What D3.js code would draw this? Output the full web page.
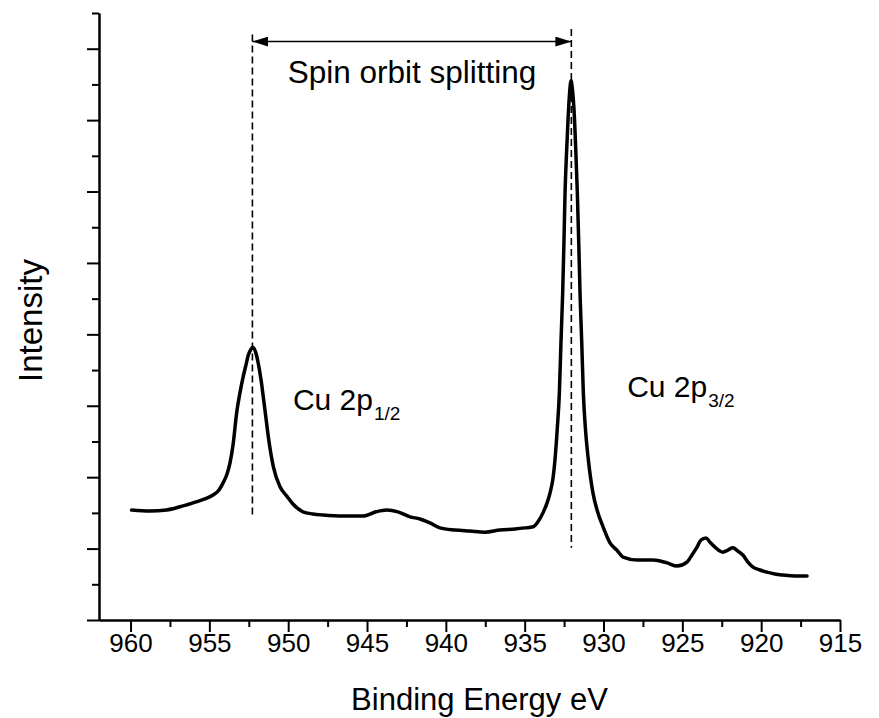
<!DOCTYPE html>
<html>
<head>
<meta charset="utf-8">
<script src="https://cdn.jsdelivr.net/npm/d3@7"></script>
<style>
  html, body { margin: 0; padding: 0; background: #fff; }
  svg { display: block; font-family: "Liberation Sans", Arial, sans-serif; }
</style>
</head>
<body>
<svg id="chart" width="879" height="718"></svg>
<script>
// ---- data (binding energy in eV, intensity in arbitrary units) ----
const energy = [
  959.93, 958.77, 957.71, 956.86, 956.04, 955.28, 954.77, 954.39, 954.13, 953.88,
  953.69, 953.50, 953.27, 953.06, 952.85, 952.68, 952.53, 952.39, 952.25, 952.07,
  951.90, 951.72, 951.58, 951.41, 951.26, 950.94, 950.52, 950.09, 949.70, 949.06,
  948.43, 947.79, 946.52, 945.26, 944.43, 943.75, 943.04, 942.27, 941.64, 941.01,
  940.37, 939.42, 938.47, 937.52, 936.57, 935.61, 934.98, 934.47, 934.16, 933.84,
  933.58, 933.39, 933.20, 933.08, 932.93, 932.80, 932.70, 932.59, 932.51, 932.44,
  932.35, 932.25, 932.16, 932.06, 931.97, 931.87, 931.76, 931.66, 931.57, 931.49,
  931.38, 931.28, 931.14, 930.96, 930.67, 930.41, 930.03, 929.59, 929.16, 928.76,
  927.88, 926.86, 925.97, 925.34, 924.71, 924.39, 924.07, 923.82, 923.50, 923.25,
  922.93, 922.43, 922.11, 921.79, 921.48, 921.16, 920.84, 920.52, 920.08, 919.63,
  919.13, 918.62, 917.86, 917.09
];
const intensity = [
  3.08, 3.05, 3.08, 3.17, 3.28, 3.39, 3.50, 3.64, 3.84, 4.09,
  4.40, 4.90, 5.80, 6.36, 6.82, 7.14, 7.42, 7.56, 7.64, 7.51,
  7.19, 6.72, 6.25, 5.66, 5.13, 4.29, 3.73, 3.47, 3.25, 3.03,
  2.97, 2.94, 2.91, 2.91, 3.03, 3.08, 3.03, 2.89, 2.83, 2.72,
  2.58, 2.52, 2.49, 2.46, 2.52, 2.55, 2.58, 2.61, 2.75, 3.00,
  3.28, 3.56, 3.98, 4.48, 5.38, 6.36, 7.76, 9.16, 10.56, 11.96,
  13.03, 14.01, 14.71, 15.10, 14.85, 14.29, 13.17, 11.96, 10.56, 9.16,
  7.76, 6.36, 5.32, 4.48, 3.56, 3.08, 2.61, 2.16, 1.96, 1.76,
  1.68, 1.68, 1.60, 1.51, 1.62, 1.82, 2.04, 2.24, 2.30, 2.18,
  2.04, 1.90, 1.96, 2.02, 1.93, 1.82, 1.62, 1.48, 1.40, 1.34,
  1.29, 1.26, 1.23, 1.23
];
const xMajorTicks = [960, 955, 950, 945, 940, 935, 930, 925, 920, 915];
const xMinorTicks = [957.5, 952.5, 947.5, 942.5, 937.5, 932.5, 927.5, 922.5, 917.5];
const yMajorTicks = [0, 2, 4, 6, 8, 10, 12, 14, 16];
const yMinorTicks = [1, 3, 5, 7, 9, 11, 13, 15, 17];
// peak positions (eV) marked by dashed lines, and their dashed-line extents (intensity units)
const peakEnergy = [952.27, 932.04];
const peakLineTop = [16.4, 16.55];
const peakLineBottom = [2.9, 2.02];
const arrowLevel = 16.2;
const peakLabels = [
  { main: "Cu 2p", sub: "1/2", e: 949.7, v: 5.87 },
  { main: "Cu 2p", sub: "3/2", e: 928.5, v: 6.25 }
];
const splitLabel = { text: "Spin orbit splitting", e: 942.15, v: 15.05 };
const xTitle = "Binding Energy eV";
const yTitle = "Intensity";

// ---- drawing ----
const svg = d3.select("#chart");
const x = d3.scaleLinear().domain([962, 915]).range([99, 840]);
const y = d3.scaleLinear().domain([0, 17]).range([620, 13]);

const axisStyle = g => {
  g.selectAll("path.domain").attr("stroke", "#000").attr("stroke-width", 2);
  g.selectAll(".tick line").attr("stroke", "#000").attr("stroke-width", 2);
};

// x axis
const gx = svg.append("g").attr("transform", `translate(0,${y(0)})`);
gx.call(d3.axisBottom(x).tickValues(xMajorTicks).tickSize(12).tickSizeOuter(0).tickPadding(2).tickFormat(d3.format("d")))
  .call(axisStyle);
gx.selectAll(".tick text").attr("font-size", 26).attr("fill", "#000").attr("font-family", "Liberation Sans, Arial, sans-serif");
svg.append("g").attr("transform", `translate(0,${y(0)})`)
  .call(d3.axisBottom(x).tickValues(xMinorTicks).tickSize(7).tickSizeOuter(0).tickFormat(""))
  .call(axisStyle);

// y axis
svg.append("g").attr("transform", `translate(${x(962)},0)`)
  .call(d3.axisLeft(y).tickValues(yMajorTicks).tickSize(12).tickSizeOuter(0).tickFormat(""))
  .call(axisStyle);
svg.append("g").attr("transform", `translate(${x(962)},0)`)
  .call(d3.axisLeft(y).tickValues(yMinorTicks).tickSize(7).tickSizeOuter(0).tickFormat(""))
  .call(axisStyle);

// titles
svg.append("text").attr("x", (x(962) + x(915)) / 2 + 10).attr("y", 710)
  .attr("text-anchor", "middle").attr("font-size", 31).text(xTitle);
svg.append("text").attr("transform", `translate(42,${(y(0) + y(17)) / 2 + 4}) rotate(-90)`)
  .attr("text-anchor", "middle").attr("font-size", 33).text(yTitle);

// spectrum
const line = d3.line().x((d, i) => x(energy[i])).y((d, i) => y(intensity[i])).curve(d3.curveMonotoneX);
svg.append("path").datum(intensity).attr("d", line)
  .attr("fill", "none").attr("stroke", "#000").attr("stroke-width", 3.5)
  .attr("stroke-linejoin", "round").attr("stroke-linecap", "round");

// dashed peak lines
peakEnergy.forEach((e, i) => {
  svg.append("line")
    .attr("x1", x(e)).attr("x2", x(e))
    .attr("y1", y(peakLineTop[i])).attr("y2", y(peakLineBottom[i]))
    .attr("stroke", "#000").attr("stroke-width", 1.6).attr("stroke-dasharray", "7,4");
});

// double-headed arrow
const defs = svg.append("defs");
defs.append("marker").attr("id", "ah").attr("viewBox", "0 0 16 10")
  .attr("refX", 16).attr("refY", 5).attr("markerWidth", 16).attr("markerHeight", 10)
  .attr("markerUnits", "userSpaceOnUse").attr("orient", "auto-start-reverse")
  .append("path").attr("d", "M0,0 L16,5 L0,10 Z").attr("fill", "#000");
svg.append("line")
  .attr("x1", x(peakEnergy[0])).attr("x2", x(peakEnergy[1]))
  .attr("y1", y(arrowLevel)).attr("y2", y(arrowLevel))
  .attr("stroke", "#000").attr("stroke-width", 1.6)
  .attr("marker-start", "url(#ah)").attr("marker-end", "url(#ah)");

// labels
svg.append("text").attr("x", x(splitLabel.e)).attr("y", y(splitLabel.v))
  .attr("text-anchor", "middle").attr("font-size", 31.5).text(splitLabel.text);
peakLabels.forEach(l => {
  const t = svg.append("text").attr("x", x(l.e)).attr("y", y(l.v)).attr("font-size", 30);
  t.append("tspan").text(l.main);
  t.append("tspan").attr("font-size", 19).attr("dy", 10).attr("dx", 1).text(l.sub);
});
</script>
</body>
</html>
